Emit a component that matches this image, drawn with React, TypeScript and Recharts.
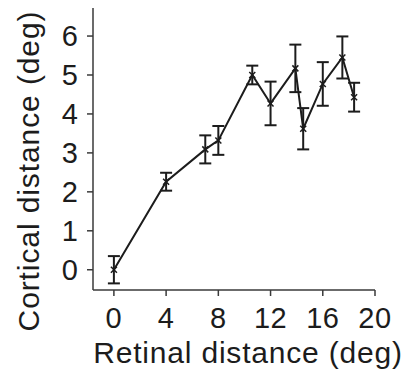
import React from "react";
import { ComposedChart, Line, XAxis, YAxis, ErrorBar, Label } from "recharts";

const retinal = [0, 4, 7, 8, 10.6, 12, 13.9, 14.5, 16, 17.5, 18.4];
const cortical = [0.0, 2.26, 3.09, 3.32, 5.0, 4.27, 5.17, 3.62, 4.77, 5.45, 4.43];
const errors = [0.35, 0.23, 0.36, 0.37, 0.24, 0.56, 0.61, 0.53, 0.56, 0.54, 0.37];
const xTicks = [0, 4, 8, 12, 16, 20];
const yTicks = [0, 1, 2, 3, 4, 5, 6];

const data = retinal.map((x, i) => ({ x, y: cortical[i], err: errors[i] }));

const INK = "#1c1c1c";
const FONT = "'Liberation Sans', Arial, sans-serif";

const Cross = (props: any) => {
  const { cx, cy } = props;
  if (cx == null || cy == null) return null;
  const s = 3;
  return (
    <g key={`c-${cx}-${cy}`}>
      <line x1={cx - s} y1={cy - s} x2={cx + s} y2={cy + s} stroke={INK} strokeWidth={1.5} />
      <line x1={cx - s} y1={cy + s} x2={cx + s} y2={cy - s} stroke={INK} strokeWidth={1.5} />
    </g>
  );
};

export default function App() {
  return (
    <div style={{ position: "absolute", left: 0, top: 0, background: "#fff" }}>
      <ComposedChart
        width={408}
        height={382}
        data={data}
        margin={{ top: 8, right: 33, bottom: 0, left: 0 }}
      >
        <XAxis
          dataKey="x"
          type="number"
          domain={[-1.6, 20]}
          ticks={xTicks}
          allowDataOverflow
          height={92}
          tickSize={6}
          tickMargin={11}
          stroke="#3a3a3a"
          strokeWidth={1.5}
          tick={{ fill: INK, fontSize: 29, fontFamily: FONT, letterSpacing: 0.5 }}
        >
          <Label
            content={() => (
              <text
                x={248}
                y={363}
                textAnchor="middle"
                fill={INK}
                style={{ fontSize: 30, fontFamily: FONT, letterSpacing: 0.8 }}
              >
                Retinal distance (deg)
              </text>
            )}
          />
        </XAxis>
        <YAxis
          type="number"
          domain={[-0.52, 6.72]}
          ticks={yTicks}
          allowDataOverflow
          width={93}
          tickSize={6}
          tickMargin={9}
          stroke="#3a3a3a"
          strokeWidth={1.5}
          tick={{ fill: INK, fontSize: 29, fontFamily: FONT }}
        >
          <Label
            content={() => (
              <text
                x={39}
                y={171}
                textAnchor="middle"
                transform="rotate(-90 39 171)"
                fill={INK}
                style={{ fontSize: 30, fontFamily: FONT, letterSpacing: 0.9 }}
              >
                Cortical distance (deg)
              </text>
            )}
          />
        </YAxis>
        <Line
          dataKey="y"
          stroke={INK}
          strokeWidth={2}
          dot={Cross}
          activeDot={false}
          isAnimationActive={false}
        >
          <ErrorBar dataKey="err" width={6} stroke={INK} strokeWidth={2} direction="y" />
        </Line>
      </ComposedChart>
    </div>
  );
}
